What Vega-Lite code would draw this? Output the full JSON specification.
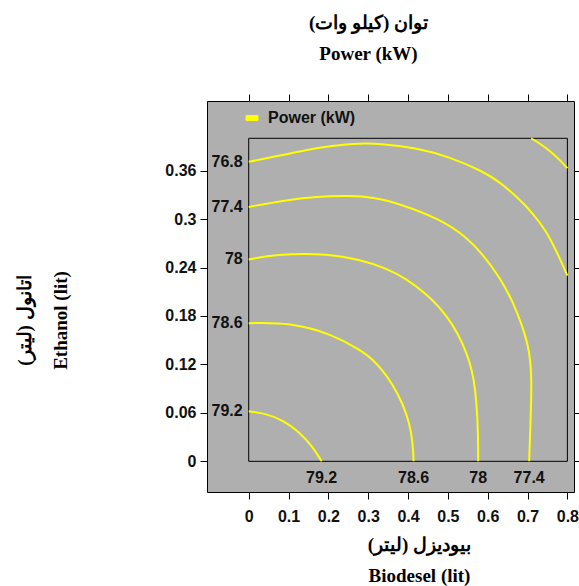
{
  "$schema": "https://vega.github.io/schema/vega-lite/v6.json",
  "width": 367,
  "height": 391,
  "autosize": "none",
  "padding": {"left": 207, "top": 101, "right": 5, "bottom": 94},
  "background": "white",
  "config": {
    "view": {"fill": "#afafaf", "stroke": "#000", "strokeWidth": 1},
    "axis": {"grid": false, "domain": false}
  },
  "title": {
    "text": ["توان (کیلو وات)", "Power (kW)"],
    "font": "Liberation Serif",
    "fontSize": 19,
    "fontWeight": "bold",
    "lineHeight": 31,
    "anchor": "middle",
    "dx": -22,
    "offset": 30,
    "color": "#000"
  },
  "datasets": {
    "contours": [
      {"level": 76.2, "x": 0.709, "y": 0.4},
      {"level": 76.2, "x": 0.739, "y": 0.391},
      {"level": 76.2, "x": 0.764, "y": 0.381},
      {"level": 76.2, "x": 0.783, "y": 0.372},
      {"level": 76.2, "x": 0.8, "y": 0.363},
      {"level": 76.8, "x": 0, "y": 0.371},
      {"level": 76.8, "x": 0.044, "y": 0.375},
      {"level": 76.8, "x": 0.128, "y": 0.384},
      {"level": 76.8, "x": 0.212, "y": 0.391},
      {"level": 76.8, "x": 0.279, "y": 0.394},
      {"level": 76.8, "x": 0.337, "y": 0.393},
      {"level": 76.8, "x": 0.421, "y": 0.388},
      {"level": 76.8, "x": 0.505, "y": 0.377},
      {"level": 76.8, "x": 0.588, "y": 0.359},
      {"level": 76.8, "x": 0.63, "y": 0.346},
      {"level": 76.8, "x": 0.672, "y": 0.328},
      {"level": 76.8, "x": 0.714, "y": 0.307},
      {"level": 76.8, "x": 0.747, "y": 0.285},
      {"level": 76.8, "x": 0.772, "y": 0.261},
      {"level": 76.8, "x": 0.8, "y": 0.23},
      {"level": 77.4, "x": 0, "y": 0.315},
      {"level": 77.4, "x": 0.086, "y": 0.323},
      {"level": 77.4, "x": 0.17, "y": 0.328},
      {"level": 77.4, "x": 0.254, "y": 0.329},
      {"level": 77.4, "x": 0.312, "y": 0.327},
      {"level": 77.4, "x": 0.379, "y": 0.319},
      {"level": 77.4, "x": 0.48, "y": 0.3},
      {"level": 77.4, "x": 0.546, "y": 0.278},
      {"level": 77.4, "x": 0.588, "y": 0.256},
      {"level": 77.4, "x": 0.63, "y": 0.228},
      {"level": 77.4, "x": 0.663, "y": 0.198},
      {"level": 77.4, "x": 0.688, "y": 0.166},
      {"level": 77.4, "x": 0.701, "y": 0.144},
      {"level": 77.4, "x": 0.708, "y": 0.122},
      {"level": 77.4, "x": 0.71, "y": 0.094},
      {"level": 77.4, "x": 0.708, "y": 0.055},
      {"level": 77.4, "x": 0.704, "y": 0},
      {"level": 78, "x": 0, "y": 0.25},
      {"level": 78, "x": 0.044, "y": 0.254},
      {"level": 78, "x": 0.103, "y": 0.257},
      {"level": 78, "x": 0.195, "y": 0.257},
      {"level": 78, "x": 0.279, "y": 0.25},
      {"level": 78, "x": 0.346, "y": 0.239},
      {"level": 78, "x": 0.396, "y": 0.226},
      {"level": 78, "x": 0.446, "y": 0.207},
      {"level": 78, "x": 0.479, "y": 0.191},
      {"level": 78, "x": 0.513, "y": 0.169},
      {"level": 78, "x": 0.538, "y": 0.145},
      {"level": 78, "x": 0.555, "y": 0.123},
      {"level": 78, "x": 0.565, "y": 0.102},
      {"level": 78, "x": 0.572, "y": 0.074},
      {"level": 78, "x": 0.576, "y": 0.034},
      {"level": 78, "x": 0.576, "y": 0},
      {"level": 78.6, "x": 0, "y": 0.171},
      {"level": 78.6, "x": 0.103, "y": 0.172},
      {"level": 78.6, "x": 0.212, "y": 0.157},
      {"level": 78.6, "x": 0.279, "y": 0.138},
      {"level": 78.6, "x": 0.312, "y": 0.126},
      {"level": 78.6, "x": 0.335, "y": 0.113},
      {"level": 78.6, "x": 0.362, "y": 0.095},
      {"level": 78.6, "x": 0.387, "y": 0.071},
      {"level": 78.6, "x": 0.404, "y": 0.047},
      {"level": 78.6, "x": 0.412, "y": 0.022},
      {"level": 78.6, "x": 0.414, "y": 0},
      {"level": 79.2, "x": 0, "y": 0.062},
      {"level": 79.2, "x": 0.044, "y": 0.059},
      {"level": 79.2, "x": 0.086, "y": 0.051},
      {"level": 79.2, "x": 0.128, "y": 0.036},
      {"level": 79.2, "x": 0.161, "y": 0.018},
      {"level": 79.2, "x": 0.183, "y": 0}
    ]
  },
  "encoding": {
    "x": {"field": "x", "type": "quantitative", "scale": {"domain": [-0.1047, 0.8166], "nice": false, "zero": false}, "axis": null},
    "y": {"field": "y", "type": "quantitative", "scale": {"domain": [-0.038, 0.4462], "nice": false, "zero": false}, "axis": null}
  },
  "layer": [
    {
      "data": {"values": [{"x": 0, "y": 0, "x2": 0.8, "y2": 0.4}]},
      "mark": {"type": "rect", "filled": false, "stroke": "#000", "strokeWidth": 1},
      "encoding": {
        "x": {
          "field": "x", "type": "quantitative",
          "scale": {"domain": [-0.1047, 0.8166], "nice": false, "zero": false},
          "axis": {
            "orient": "bottom",
            "values": [0, 0.1, 0.2, 0.3, 0.4, 0.5, 0.6, 0.7, 0.8],
            "format": "~g",
            "tickSize": 7, "tickColor": "#000", "tickWidth": 1,
            "labelFont": "Liberation Sans", "labelFontWeight": "bold", "labelFontSize": 16,
            "labelColor": "#111", "labelPadding": 9, "labelFlush": false, "labelOverlap": false,
            "title": ["بیودیزل (لیتر)", "Biodesel (lit)"],
            "titleFont": "Liberation Serif", "titleFontSize": 19, "titleFontWeight": "bold",
            "titleColor": "#000", "titleLineHeight": 31,
            "titleX": 212, "titleY": 52, "titleAlign": "center", "titleBaseline": "middle"
          }
        },
        "y": {
          "field": "y", "type": "quantitative",
          "scale": {"domain": [-0.038, 0.4462], "nice": false, "zero": false},
          "axis": {
            "orient": "left",
            "values": [0, 0.06, 0.12, 0.18, 0.24, 0.3, 0.36],
            "format": "~g",
            "tickSize": 7, "tickColor": "#000", "tickWidth": 1,
            "labelFont": "Liberation Sans", "labelFontWeight": "bold", "labelFontSize": 16,
            "labelColor": "#111", "labelPadding": 4, "labelFlush": false, "labelOverlap": false,
            "title": ["اتانول (لیتر)", "Ethanol (lit)"],
            "titleFont": "Liberation Serif", "titleFontSize": 19, "titleFontWeight": "bold",
            "titleColor": "#000", "titleLineHeight": 36,
            "titleX": -183, "titleY": 219, "titleAngle": -90, "titleAlign": "center", "titleBaseline": "middle"
          }
        },
        "x2": {"field": "x2"},
        "y2": {"field": "y2"}
      }
    },
    {
      "data": {"values": [{"x": 0, "y": 0}]},
      "mark": {"type": "point", "opacity": 0},
      "encoding": {
        "x": {
          "field": "x", "type": "quantitative",
          "scale": {"domain": [-0.1047, 0.8166], "nice": false, "zero": false},
          "axis": {"orient": "top", "values": [0, 0.1, 0.2, 0.3, 0.4, 0.5, 0.6, 0.7, 0.8], "labels": false, "tickSize": 7, "tickColor": "#000", "title": null}
        },
        "y": {
          "field": "y", "type": "quantitative",
          "scale": {"domain": [-0.038, 0.4462], "nice": false, "zero": false},
          "axis": {"orient": "right", "values": [0, 0.06, 0.12, 0.18, 0.24, 0.3, 0.36], "labels": false, "tickSize": 7, "tickColor": "#000", "title": null}
        }
      }
    },
    {
      "data": {"name": "contours"},
      "mark": {"type": "line", "strokeWidth": 2, "interpolate": "basis", "clip": true},
      "encoding": {
        "stroke": {
          "datum": "Power (kW)", "type": "nominal",
          "scale": {"range": ["#ffff00"]},
          "legend": {
            "orient": "none", "legendX": 37, "legendY": 9, "title": null, "padding": 0,
            "symbolType": "M-1,-0.4H1V0.4H-1Z", "symbolSize": 144, "symbolStrokeWidth": 1,
            "labelFont": "Liberation Sans", "labelFontWeight": "bold", "labelFontSize": 16,
            "labelColor": "#111", "labelOffset": 8,
            "encode": {"symbols": {"update": {"fill": {"value": "#ffff00"}, "stroke": {"value": "#000"}, "strokeWidth": {"value": 1}}}}
          }
        },
        "detail": {"field": "level", "type": "nominal"},
        "order": {"value": null}
      }
    },
    {
      "data": {"name": "contours"},
      "transform": [{"filter": "datum.x === 0"}],
      "mark": {"type": "text", "align": "right", "baseline": "middle", "dx": -6, "font": "Liberation Sans", "fontWeight": "bold", "fontSize": 16, "color": "#111"},
      "encoding": {"text": {"field": "level", "type": "quantitative", "format": "~g"}}
    },
    {
      "data": {"name": "contours"},
      "transform": [{"filter": "datum.y === 0"}],
      "mark": {"type": "text", "align": "center", "baseline": "middle", "dy": 17, "font": "Liberation Sans", "fontWeight": "bold", "fontSize": 16, "color": "#111"},
      "encoding": {"text": {"field": "level", "type": "quantitative", "format": "~g"}}
    }
  ],
  "resolve": {"axis": {"x": "independent", "y": "independent"}}
}
